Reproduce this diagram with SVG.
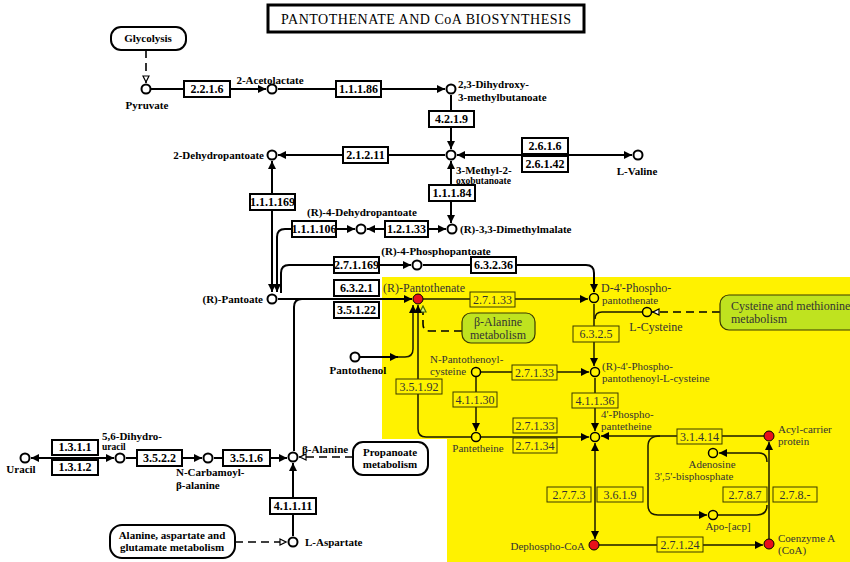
<svg xmlns="http://www.w3.org/2000/svg" width="850" height="562" viewBox="0 0 850 562">
<style>
.bg{fill:#fff}
.yl{fill:#fff200}
.ln{fill:none;stroke:#000;stroke-width:2}
.yln{fill:none;stroke:#1a1a00;stroke-width:1.5}
.dash{fill:none;stroke:#000;stroke-width:1.6;stroke-dasharray:8,5}
.eb{fill:#fff;stroke:#000;stroke-width:2}
.yb{fill:#fff200;stroke:#3a3a00;stroke-width:1}
.c{fill:#fff;stroke:#000;stroke-width:2}
.yc{fill:#fff200;stroke:#000;stroke-width:1.5}
.rc{fill:#e8101a;stroke:#000;stroke-width:1}
.map{fill:#fff;stroke:#000;stroke-width:2}
.gmap{fill:#bfe31f;stroke:#3a3a00;stroke-width:1.2}
text{font-family:"Liberation Serif",serif}
.t{font-weight:bold;font-size:11px;fill:#000}
.ts{font-weight:bold;font-size:9.5px;fill:#000}
.e{font-weight:bold;font-size:12px;text-anchor:middle;fill:#000}
.y{font-size:12px;fill:#333}
.ys{font-size:11px;fill:#333}
.ye{font-size:12px;text-anchor:middle;fill:#333}
.m{font-size:12px;fill:#333}
.mid{text-anchor:middle}
.end{text-anchor:end}
</style>
<defs>
<marker id="ah" viewBox="0 0 8 8" refX="8" refY="4" markerWidth="8" markerHeight="8" markerUnits="userSpaceOnUse" orient="auto-start-reverse"><path d="M0,0L8,4L0,8z" fill="#000"/></marker>
<marker id="oa" viewBox="0 0 8 8" refX="8" refY="4" markerWidth="8" markerHeight="8" markerUnits="userSpaceOnUse" orient="auto"><path d="M1,1L7,4L1,7z" fill="#fff" stroke="#000" stroke-width="1.2"/></marker>
<marker id="ga" viewBox="0 0 8 8" refX="8" refY="4" markerWidth="8" markerHeight="8" markerUnits="userSpaceOnUse" orient="auto"><path d="M1,1L7,4L1,7z" fill="#d6f07a" stroke="#4a6a00" stroke-width="1.2"/></marker>
</defs>
<rect class="bg" x="0" y="0" width="850" height="562"/>
<polygon class="yl" points="382,277 850,277 850,562 447,562 447,439 382,439"/>

<g id="title">
<rect x="268" y="5" width="316" height="27" fill="#fff" stroke="#000" stroke-width="3"/>
<text x="426" y="24" font-size="14" text-anchor="middle" textLength="290" lengthAdjust="spacing">PANTOTHENATE AND CoA BIOSYNTHESIS</text>
</g>

<g id="connectors">
<path class="dash" d="M146,50 L146,83" marker-end="url(#oa)"/>
<path class="ln" d="M151,89 L266,89" marker-end="url(#ah)"/>
<path class="ln" d="M278,89 L445,89" marker-end="url(#ah)"/>
<path class="ln" d="M451,95 L451,149" marker-end="url(#ah)"/>
<path class="ln" d="M457,155 L632,155" marker-start="url(#ah)" marker-end="url(#ah)"/>
<path class="ln" d="M445,155 L278,155" marker-end="url(#ah)"/>
<path class="ln" d="M451,161 L451,223" marker-start="url(#ah)" marker-end="url(#ah)"/>
<path class="ln" d="M272,161 L272,292" marker-start="url(#ah)" marker-end="url(#ah)"/>
<path class="ln" d="M277,292 L277,237 Q277,229 285,229 L355,229" marker-start="url(#ah)" marker-end="url(#ah)"/>
<path class="ln" d="M367,229 L446,229" marker-start="url(#ah)" marker-end="url(#ah)"/>
<path class="ln" d="M281,293 L281,273 Q281,265 289,265 L411,265" marker-end="url(#ah)"/>
<path class="ln" d="M423,265 L586,265 Q594,265 594,273 L594,292" marker-end="url(#ah)"/>
<path class="ln" d="M278,299 L412,299" marker-end="url(#ah)"/>
<path class="ln" d="M294,451 L294,307 Q294,299 302,299"/>
<path class="ln" d="M31,458 L114,458" stroke-width="3" marker-start="url(#ah)" marker-end="url(#ah)"/>
<path class="ln" d="M126,458 L202,458" marker-end="url(#ah)"/>
<path class="ln" d="M214,458 L287,458" marker-end="url(#ah)"/>
<path class="ln" d="M293,536 L293,463" marker-end="url(#ah)"/>
<path class="dash" d="M235,542 L287,542" marker-end="url(#oa)"/>
<path class="dash" d="M353,457 L299,457" marker-end="url(#oa)"/>
<path class="yln" d="M423,299 L588,299" marker-end="url(#ah)"/>
<path class="yln" d="M594,304 L594,366" marker-end="url(#ah)"/>
<path class="yln" d="M642,312 L602,312 Q595,312 595,319"/>
<path class="dash" d="M720,312 L652,312" marker-end="url(#oa)"/>
<path class="dash" d="M462,331 L430,331 Q423,331 423,324 L423,305" marker-end="url(#ga)"/>
<path class="ln" d="M360,357 L398,357" marker-end="url(#ah)"/>
<path class="yln" d="M398,357 L405,357 Q413,357 413,349 L413,305" marker-end="url(#ah)"/>
<path class="yln" d="M418,305 L418,429 Q418,437 426,437 L471,437" marker-start="url(#ah)"/>
<path class="yln" d="M481,372 L589,372" marker-end="url(#ah)"/>
<path class="yln" d="M476,377 L476,431" marker-end="url(#ah)"/>
<path class="yln" d="M481,437 L589,437" marker-end="url(#ah)"/>
<path class="yln" d="M595,378 L595,431" marker-end="url(#ah)"/>
<path class="yln" d="M764,436 L601,436" marker-end="url(#ah)"/>
<path class="yln" d="M595,443 L595,539" marker-start="url(#ah)" marker-end="url(#ah)"/>
<path class="yln" d="M599,545 L763,545" marker-end="url(#ah)"/>
<path class="yln" d="M769,539 L769,442" stroke-width="2.5" marker-end="url(#ah)"/>
<path class="yln" d="M767,462 Q767,453 759,453 L719,453" marker-end="url(#ah)"/>
<path class="yln" d="M718,515 L757,515 Q767,515 767,505"/>
<path class="yln" d="M660,436 Q648,436 648,446 L648,505 Q648,515 658,515 L707,515" marker-end="url(#ah)"/>
</g>

<g id="map-glycolysis"><rect class="map" x="111" y="27" width="75" height="23" rx="10"/><text class="t mid" x="148" y="42">Glycolysis</text></g>
<g id="map-propanoate"><rect class="map" x="353" y="442" width="75" height="33" rx="10"/><text class="t mid" x="390" y="456">Propanoate</text><text class="t mid" x="390" y="468">metabolism</text></g>
<g id="map-alanine"><rect class="map" x="110" y="525" width="125" height="33" rx="12"/><text class="t mid" x="172" y="539">Alanine, aspartate and</text><text class="t mid" x="172" y="551">glutamate metabolism</text></g>
<g id="map-betaalanine"><rect class="gmap" x="462" y="313" width="73" height="30" rx="9"/><text class="m mid" x="498" y="326">β-Alanine</text><text class="m mid" x="498" y="339">metabolism</text></g>
<g id="map-cysteine"><rect class="gmap" x="720" y="295" width="140" height="35" rx="9"/><text class="m" x="731" y="310">Cysteine and methionine</text><text class="m" x="731" y="323">metabolism</text></g>

<g id="c-pyruvate"><circle class="c" cx="146" cy="89" r="4.5"/><text class="t mid" x="147" y="109">Pyruvate</text></g>
<g id="c-acetolactate"><circle class="c" cx="272" cy="89" r="4.5"/><text class="t mid" x="270" y="84">2-Acetolactate</text></g>
<g id="c-dihydroxy"><circle class="c" cx="451" cy="89" r="4.5"/><text class="t" x="458" y="88">2,3-Dihydroxy-</text><text class="t" x="458" y="101">3-methylbutanoate</text></g>
<g id="c-methyloxo"><circle class="c" cx="451" cy="155" r="4.5"/><text class="t" x="456" y="174">3-Methyl-2-</text><text class="ts" x="456" y="184">oxobutanoate</text></g>
<g id="c-valine"><circle class="c" cx="638" cy="155" r="4.5"/><text class="t mid" x="637" y="175">L-Valine</text></g>
<g id="c-dehydropantoate"><circle class="c" cx="272" cy="155" r="4.5"/><text class="t end" x="264" y="159">2-Dehydropantoate</text></g>
<g id="c-4dehydropantoate"><circle class="c" cx="361" cy="229" r="4.5"/><text class="t mid" x="362" y="216">(R)-4-Dehydropantoate</text></g>
<g id="c-dimethylmalate"><circle class="c" cx="452" cy="229" r="4.5"/><text class="t" x="460" y="233">(R)-3,3-Dimethylmalate</text></g>
<g id="c-pantoate"><circle class="c" cx="272" cy="299" r="4.5"/><text class="t end" x="263" y="303">(R)-Pantoate</text></g>
<g id="c-phosphopantoate"><circle class="c" cx="417" cy="265" r="4.5"/><text class="t mid" x="436" y="255">(R)-4-Phosphopantoate</text></g>
<g id="c-pantothenol"><circle class="c" cx="355" cy="357" r="4.5"/><text class="t mid" x="358" y="374">Pantothenol</text></g>
<g id="c-dihydrouracil"><circle class="c" cx="120" cy="458" r="4.5"/><text class="t" x="102" y="440">5,6-Dihydro-</text><text class="ts" x="102" y="450">uracil</text></g>
<g id="c-uracil"><circle class="c" cx="25" cy="458" r="4.5"/><text class="t mid" x="21" y="473">Uracil</text></g>
<g id="c-carbamoyl"><circle class="c" cx="208" cy="458" r="4.5"/><text class="t" x="176" y="476">N-Carbamoyl-</text><text class="t" x="176" y="489">β-alanine</text></g>
<g id="c-betaalanine"><circle class="c" cx="293" cy="457" r="4.5"/><text class="t" x="302" y="453">β-Alanine</text></g>
<g id="c-aspartate"><circle class="c" cx="293" cy="542" r="4.5"/><text class="t" x="305" y="546">L-Aspartate</text></g>

<g id="c-pantothenate"><circle class="rc" cx="418" cy="299" r="5"/><text class="y" x="383" y="292">(R)-Pantothenate</text></g>
<g id="c-d4pp"><circle class="yc" cx="594" cy="298" r="4.5"/><text class="y" x="601" y="292">D-4'-Phospho-</text><text class="ys" x="602" y="304">pantothenate</text></g>
<g id="c-cysteine"><circle class="yc" cx="647" cy="312" r="4.5"/><text class="y mid" x="656" y="331">L-Cysteine</text></g>
<g id="c-npc"><circle class="yc" cx="476" cy="372" r="4.5"/><text class="ys" x="430" y="363">N-Pantothenoyl-</text><text class="ys" x="430" y="375">cysteine</text></g>
<g id="c-r4ppc"><circle class="yc" cx="595" cy="372" r="4.5"/><text class="ys" x="602" y="370">(R)-4'-Phospho-</text><text class="ys" x="602" y="382">pantothenoyl-L-cysteine</text></g>
<g id="c-pantetheine"><circle class="yc" cx="476" cy="437" r="4.5"/><text class="ys mid" x="478" y="452">Pantetheine</text></g>
<g id="c-4ppant"><circle class="yc" cx="595" cy="437" r="4.5"/><text class="ys" x="601" y="418">4'-Phospho-</text><text class="ys" x="601" y="430">pantetheine</text></g>
<g id="c-acp"><circle class="rc" cx="769" cy="436" r="5"/><text class="ys" x="778" y="433">Acyl-carrier</text><text class="ys" x="778" y="445">protein</text></g>
<g id="c-pap"><circle class="yc" cx="713" cy="453" r="4.5"/><text class="ys mid" x="712" y="468">Adenosine</text><text class="ys mid" x="694" y="480">3',5'-bisphosphate</text></g>
<g id="c-apoacp"><circle class="yc" cx="713" cy="515" r="4.5"/><text class="ys mid" x="728" y="530">Apo-[acp]</text></g>
<g id="c-dephosphocoa"><circle class="rc" cx="594" cy="545" r="5"/><text class="ys end" x="585" y="550">Dephospho-CoA</text></g>
<g id="c-coa"><circle class="rc" cx="769" cy="544" r="5"/><text class="ys" x="778" y="542">Coenzyme A</text><text class="ys" x="778" y="554">(CoA)</text></g>

<g id="e-2.2.1.6"><rect class="eb" x="184" y="81" width="46" height="16"/><text class="e" x="207" y="93">2.2.1.6</text></g>
<g id="e-1.1.1.86"><rect class="eb" x="336" y="81" width="45" height="16"/><text class="e" x="358.5" y="93">1.1.1.86</text></g>
<g id="e-4.2.1.9"><rect class="eb" x="429" y="111" width="45" height="16"/><text class="e" x="451.5" y="123">4.2.1.9</text></g>
<g id="e-2.6.1.6"><rect class="eb" x="522" y="138" width="46" height="16"/><text class="e" x="545" y="150">2.6.1.6</text></g>
<g id="e-2.6.1.42"><rect class="eb" x="522" y="156" width="46" height="16"/><text class="e" x="545" y="168">2.6.1.42</text></g>
<g id="e-2.1.2.11"><rect class="eb" x="343" y="147" width="45" height="16"/><text class="e" x="365.5" y="159">2.1.2.11</text></g>
<g id="e-1.1.1.84"><rect class="eb" x="429" y="185" width="46" height="16"/><text class="e" x="452" y="197">1.1.1.84</text></g>
<g id="e-1.1.1.169"><rect class="eb" x="250" y="194" width="45" height="16"/><text class="e" x="272.5" y="206">1.1.1.169</text></g>
<g id="e-1.1.1.106"><rect class="eb" x="292" y="221" width="44" height="16"/><text class="e" x="314" y="233">1.1.1.106</text></g>
<g id="e-1.2.1.33"><rect class="eb" x="385" y="221" width="43" height="16"/><text class="e" x="406.5" y="233">1.2.1.33</text></g>
<g id="e-2.7.1.169"><rect class="eb" x="334" y="257" width="45" height="16"/><text class="e" x="356.5" y="269">2.7.1.169</text></g>
<g id="e-6.3.2.36"><rect class="eb" x="471" y="257" width="45" height="16"/><text class="e" x="493.5" y="269">6.3.2.36</text></g>
<g id="e-6.3.2.1"><rect class="eb" x="334" y="280" width="45" height="16"/><text class="e" x="356.5" y="292">6.3.2.1</text></g>
<g id="e-3.5.1.22"><rect class="eb" x="334" y="302" width="45" height="16"/><text class="e" x="356.5" y="314">3.5.1.22</text></g>
<g id="e-1.3.1.1"><rect class="eb" x="52" y="440" width="46" height="15"/><text class="e" x="75" y="451">1.3.1.1</text></g>
<g id="e-1.3.1.2"><rect class="eb" x="52" y="460" width="46" height="15"/><text class="e" x="75" y="471">1.3.1.2</text></g>
<g id="e-3.5.2.2"><rect class="eb" x="137" y="450" width="45" height="16"/><text class="e" x="159.5" y="462">3.5.2.2</text></g>
<g id="e-3.5.1.6"><rect class="eb" x="223" y="450" width="47" height="16"/><text class="e" x="246.5" y="462">3.5.1.6</text></g>
<g id="e-4.1.1.11"><rect class="eb" x="270" y="498" width="46" height="16"/><text class="e" x="293" y="510">4.1.1.11</text></g>

<g id="e-2.7.1.33a"><rect class="yb" x="470" y="292" width="45" height="15"/><text class="ye" x="492.5" y="304">2.7.1.33</text></g>
<g id="e-6.3.2.5"><rect class="yb" x="573" y="326" width="46" height="16"/><text class="ye" x="596" y="338">6.3.2.5</text></g>
<g id="e-3.5.1.92"><rect class="yb" x="396" y="379" width="46" height="15"/><text class="ye" x="419" y="391">3.5.1.92</text></g>
<g id="e-2.7.1.33b"><rect class="yb" x="512" y="365" width="45" height="15"/><text class="ye" x="534.5" y="377">2.7.1.33</text></g>
<g id="e-4.1.1.30"><rect class="yb" x="453" y="392" width="44" height="15"/><text class="ye" x="475" y="404">4.1.1.30</text></g>
<g id="e-4.1.1.36"><rect class="yb" x="572" y="393" width="46" height="15"/><text class="ye" x="595" y="405">4.1.1.36</text></g>
<g id="e-2.7.1.33c"><rect class="yb" x="513" y="418" width="44" height="15"/><text class="ye" x="535" y="430">2.7.1.33</text></g>
<g id="e-2.7.1.34"><rect class="yb" x="513" y="438" width="44" height="15"/><text class="ye" x="535" y="450">2.7.1.34</text></g>
<g id="e-3.1.4.14"><rect class="yb" x="677" y="429" width="45" height="15"/><text class="ye" x="699.5" y="441">3.1.4.14</text></g>
<g id="e-2.7.7.3"><rect class="yb" x="547" y="487" width="44" height="15"/><text class="ye" x="569" y="499">2.7.7.3</text></g>
<g id="e-3.6.1.9"><rect class="yb" x="597" y="487" width="46" height="15"/><text class="ye" x="620" y="499">3.6.1.9</text></g>
<g id="e-2.7.8.7"><rect class="yb" x="723" y="487" width="44" height="15"/><text class="ye" x="745" y="499">2.7.8.7</text></g>
<g id="e-2.7.8.-"><rect class="yb" x="773" y="487" width="44" height="15"/><text class="ye" x="795" y="499">2.7.8.-</text></g>
<g id="e-2.7.1.24"><rect class="yb" x="657" y="537" width="46" height="15"/><text class="ye" x="680" y="549">2.7.1.24</text></g>
</svg>
